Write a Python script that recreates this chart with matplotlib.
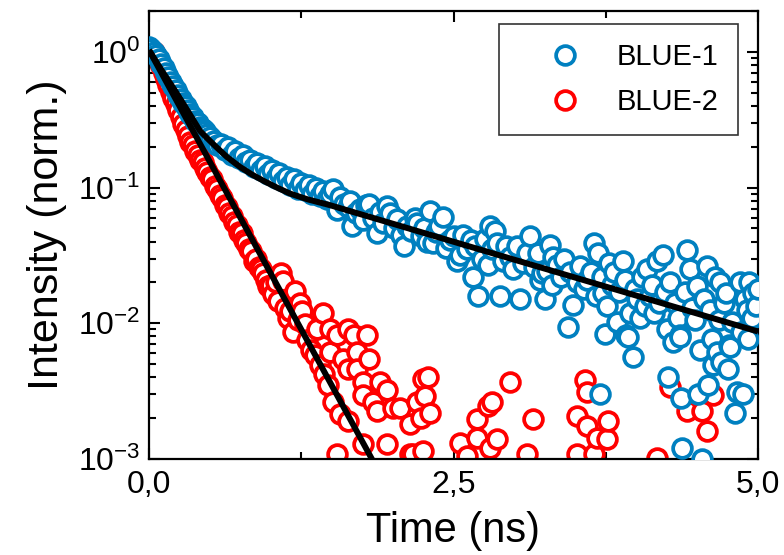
import matplotlib
matplotlib.use("Agg")
import matplotlib.pyplot as plt
from matplotlib.ticker import FuncFormatter, LogLocator, NullFormatter

# ---------------- data ----------------
blue1_time = [
    0.00, 0.02, 0.04, 0.06, 0.08, 0.10, 0.12, 0.14, 0.16, 0.18, 0.20, 0.22, 0.24, 0.26,
    0.28, 0.30, 0.32, 0.34, 0.36, 0.38, 0.40, 0.42, 0.44, 0.46, 0.48, 0.50, 0.53, 0.56,
    0.59, 0.62, 0.65, 0.68, 0.71, 0.74, 0.77, 0.80, 0.83, 0.86, 0.89, 0.92, 0.95, 0.98,
    1.01, 1.04, 1.07, 1.10, 1.13, 1.16, 1.19, 1.22, 1.25, 1.28, 1.31, 1.34, 1.37, 1.40,
    1.43, 1.46, 1.49, 1.51, 1.54, 1.57, 1.60, 1.63, 1.65, 1.67, 1.70, 1.73, 1.76, 1.78,
    1.81, 1.84, 1.87, 1.90, 1.92, 1.95, 1.98, 2.01, 2.04, 2.07, 2.09, 2.12, 2.15, 2.18,
    2.20, 2.23, 2.26, 2.28, 2.31, 2.33, 2.36, 2.38, 2.41, 2.44, 2.47, 2.50, 2.53, 2.55,
    2.58, 2.61, 2.64, 2.66, 2.68, 2.70, 2.73, 2.76, 2.78, 2.80, 2.82, 2.84, 2.86, 2.88,
    2.91, 2.93, 2.96, 2.99, 3.02, 3.05, 3.07, 3.10, 3.13, 3.16, 3.19, 3.21, 3.23, 3.25,
    3.27, 3.29, 3.31, 3.32, 3.35, 3.38, 3.41, 3.44, 3.46, 3.48, 3.51, 3.54, 3.57, 3.60,
    3.63, 3.65, 3.67, 3.69, 3.70, 3.72, 3.73, 3.74, 3.76, 3.78, 3.80, 3.82, 3.84, 3.86,
    3.89, 3.91, 3.92, 3.93, 3.95, 3.97, 3.99, 4.01, 4.03, 4.05, 4.07, 4.09, 4.11, 4.13,
    4.15, 4.17, 4.19, 4.22, 4.24, 4.25, 4.26, 4.28, 4.30, 4.32, 4.34, 4.36, 4.36, 4.37,
    4.38, 4.40, 4.42, 4.44, 4.46, 4.48, 4.50, 4.51, 4.52, 4.54, 4.56, 4.58, 4.59, 4.61,
    4.62, 4.63, 4.65, 4.66, 4.68, 4.69, 4.70, 4.72, 4.74, 4.75, 4.76, 4.77, 4.79, 4.81,
    4.83, 4.85, 4.86, 4.88, 4.89, 4.91, 4.92, 4.93, 4.95, 4.96, 4.98, 5.00,
]
blue1_intensity = [
    1.08, 1.05, 1.00, 0.95, 0.88, 0.82, 0.76, 0.70, 0.65, 0.60, 0.56, 0.52, 0.48, 0.45,
    0.42, 0.40, 0.37, 0.35, 0.33, 0.31, 0.30, 0.28, 0.27, 0.26, 0.25, 0.235, 0.22, 0.205,
    0.21, 0.19, 0.20, 0.175, 0.185, 0.165, 0.175, 0.155, 0.16, 0.142, 0.152, 0.135, 0.145, 0.125,
    0.135, 0.118, 0.128, 0.112, 0.12, 0.104, 0.115, 0.098, 0.108, 0.096, 0.104, 0.090, 0.099, 0.086,
    0.095, 0.083, 0.090, 0.098, 0.068, 0.085, 0.076, 0.072, 0.080, 0.052, 0.065, 0.070, 0.058, 0.075,
    0.076, 0.060, 0.046, 0.066, 0.055, 0.073, 0.065, 0.050, 0.059, 0.045, 0.037, 0.052, 0.048, 0.060,
    0.055, 0.044, 0.050, 0.040, 0.067, 0.039, 0.047, 0.052, 0.061, 0.036, 0.041, 0.044, 0.029, 0.032,
    0.045, 0.035, 0.041, 0.022, 0.037, 0.016, 0.030, 0.042, 0.027, 0.052, 0.035, 0.048, 0.039, 0.016,
    0.029, 0.037, 0.031, 0.025, 0.037, 0.015, 0.028, 0.033, 0.044, 0.026, 0.033, 0.021, 0.0236, 0.015,
    0.0243, 0.038, 0.019, 0.031, 0.027, 0.022, 0.030, 0.0094, 0.024, 0.0137, 0.020, 0.0265, 0.018, 0.021,
    0.024, 0.039, 0.016, 0.033, 0.0030, 0.022, 0.0168, 0.0083, 0.0135, 0.028, 0.019, 0.024, 0.0102, 0.017,
    0.029, 0.021, 0.0082, 0.0079, 0.012, 0.0056, 0.018, 0.015, 0.011, 0.022, 0.0135, 0.0252, 0.016, 0.019,
    0.012, 0.029, 0.014, 0.032, 0.017, 0.009, 0.0040, 0.020, 0.0073, 0.014, 0.011, 0.0082, 0.0079, 0.0028,
    0.0012, 0.017, 0.0345, 0.0252, 0.013, 0.0105, 0.0189, 0.0030, 0.0064, 0.0010, 0.015, 0.0265, 0.0035, 0.0126,
    0.0076, 0.0049, 0.022, 0.0061, 0.0105, 0.020, 0.0052, 0.014, 0.0168, 0.0046, 0.0069, 0.0067, 0.0102, 0.0022,
    0.0031, 0.020, 0.0086, 0.0030, 0.015, 0.0126, 0.0076, 0.020, 0.011, 0.0168, 0.0135, 0.018,
]

blue2_time = [
    0.00, 0.02, 0.04, 0.06, 0.08, 0.10, 0.12, 0.14, 0.16, 0.18, 0.20, 0.22, 0.24, 0.26,
    0.28, 0.30, 0.32, 0.34, 0.36, 0.38, 0.40, 0.42, 0.44, 0.46, 0.48, 0.50, 0.52, 0.54,
    0.56, 0.58, 0.60, 0.62, 0.64, 0.66, 0.68, 0.70, 0.72, 0.74, 0.76, 0.78, 0.80, 0.82,
    0.84, 0.86, 0.88, 0.90, 0.92, 0.94, 0.96, 0.98, 1.00, 1.02, 1.04, 1.06, 1.08, 1.10,
    1.12, 1.14, 1.16, 1.18, 1.20, 1.22, 1.24, 1.26, 1.28, 1.30, 1.33, 1.36, 1.38, 1.40,
    1.43, 1.44, 1.47, 1.49, 1.49, 1.51, 1.54, 1.54, 1.57, 1.59, 1.63, 1.63, 1.63, 1.68,
    1.71, 1.71, 1.76, 1.76, 1.76, 1.79, 1.81, 1.84, 1.87, 1.90, 1.95, 1.95, 2.00, 2.06,
    2.14, 2.14, 2.17, 2.20, 2.23, 2.25, 2.25, 2.27, 2.29, 2.31, 2.55, 2.61, 2.69, 2.69,
    2.78, 2.80, 2.82, 2.86, 2.96, 3.10, 3.15, 3.51, 3.51, 3.58, 3.60, 3.60, 3.65, 3.68,
    3.76, 3.77, 4.17, 4.28, 4.42, 4.54, 4.58, 4.63,
]
blue2_intensity = [
    1.05, 1.03, 0.99, 0.93, 0.86, 0.78, 0.70, 0.63, 0.57, 0.51, 0.46, 0.41, 0.37, 0.33,
    0.295, 0.265, 0.24, 0.215, 0.205, 0.185, 0.175, 0.16, 0.155, 0.14, 0.13, 0.12, 0.115, 0.102,
    0.098, 0.088, 0.084, 0.075, 0.072, 0.065, 0.062, 0.056, 0.053, 0.047, 0.046, 0.041, 0.039, 0.035,
    0.034, 0.029, 0.030, 0.026, 0.025, 0.0236, 0.021, 0.0189, 0.019, 0.0165, 0.020, 0.0145, 0.0236, 0.0205,
    0.013, 0.011, 0.0124, 0.0086, 0.0174, 0.0105, 0.0142, 0.0124, 0.0098, 0.0075, 0.0064, 0.0058, 0.0090, 0.0049,
    0.0120, 0.0042, 0.0035, 0.0090, 0.0061, 0.00265, 0.0082, 0.00109, 0.00213, 0.0055, 0.0090, 0.0046, 0.00189, 0.0082,
    0.0061, 0.0046, 0.0037, 0.00298, 0.00129, 0.0082, 0.0055, 0.00265, 0.00224, 0.0037, 0.0032, 0.00129, 0.00236, 0.00236,
    0.0018, 0.00109, 0.00109, 0.00265, 0.00199, 0.0039, 0.00114, 0.00289, 0.00403, 0.00217, 0.00131, 0.00105, 0.00196, 0.00142,
    0.00245, 0.0012, 0.00265, 0.0014, 0.00371, 0.00109, 0.00196, 0.00206, 0.00109, 0.00383, 0.00314, 0.00174, 0.00109, 0.00142,
    0.0014, 0.00189, 0.00102, 0.00341, 0.00224, 0.00224, 0.0016, 0.00298,
]

fit1_time = [0.0, 0.10, 0.213, 0.30, 0.419, 0.48, 0.542, 0.64, 0.747, 0.85, 0.952, 1.05,
             1.158, 1.30, 1.49, 2.0, 2.5, 3.0, 3.5, 4.0, 4.5, 5.0]
fit1_intensity = [1.03, 0.74, 0.519, 0.39, 0.261, 0.23, 0.203, 0.168, 0.142, 0.124, 0.1107, 0.100,
                  0.0903, 0.082, 0.074, 0.0542, 0.0399, 0.0294, 0.0217, 0.0160, 0.0118, 0.0087]
fit2_time = [0.0, 1.9]
fit2_intensity = [1.03, 0.000766]

series_labels = ["BLUE-1", "BLUE-2"]
x_major_ticks = [0.0, 2.5, 5.0]
x_minor_ticks = [1.25, 3.75]

# ---------------- style ----------------
FONT = ["Liberation Sans", "DejaVu Sans"]
plt.rcParams["font.family"] = FONT
plt.rcParams["mathtext.fontset"] = "custom"
plt.rcParams["mathtext.rm"] = FONT[0]
plt.rcParams["mathtext.it"] = FONT[0]
plt.rcParams["axes.unicode_minus"] = False

BLUE = "#0080c0"
RED = "#ff0000"

fig = plt.figure(figsize=(7.84, 5.55), dpi=100)
ax = fig.add_axes([149 / 784, 1 - 459 / 555, 609 / 784, 448 / 555])

mk = dict(marker="o", ls="none", ms=13.5, mew=2.7, mfc="white")
h2, = ax.plot(blue2_time, blue2_intensity, mec=RED, label=series_labels[1], zorder=2, **mk)
h1, = ax.plot(blue1_time, blue1_intensity, mec=BLUE, label=series_labels[0], zorder=3, **mk)
ax.plot(fit1_time, fit1_intensity, color="black", lw=4.3, zorder=4, solid_capstyle="butt")
ax.plot(fit2_time, fit2_intensity, color="black", lw=4.3, zorder=4, solid_capstyle="butt")

ax.set_yscale("log")
ax.set_xlim(0, 5)
ax.set_ylim(1e-3, 2)

ax.set_xticks(x_major_ticks)
ax.set_xticks(x_minor_ticks, minor=True)
ax.xaxis.set_major_formatter(FuncFormatter(lambda v, p: f"{v:.1f}".replace(".", ",")))
ax.yaxis.set_major_locator(LogLocator(base=10, numticks=10))
ax.yaxis.set_minor_locator(LogLocator(base=10, subs=range(2, 10), numticks=20))
ax.yaxis.set_minor_formatter(NullFormatter())

ax.tick_params(which="both", direction="in", top=True, right=True, width=1.5, labelsize=23)
ax.tick_params(which="major", length=8)
ax.tick_params(which="minor", length=5)
ax.tick_params(axis="x", pad=8)
ax.tick_params(axis="y", pad=6)
for s in ax.spines.values():
    s.set_linewidth(1.6)

ax.set_xlabel("Time (ns)", fontsize=30, labelpad=8)
ax.set_ylabel("Intensity (norm.)", fontsize=31, labelpad=8)

leg = ax.legend(handles=[h1, h2], loc="upper right", bbox_to_anchor=(0.967, 0.971),
                fontsize=21, frameon=True, fancybox=False, edgecolor="black",
                borderpad=0.65, handlelength=3.2, handletextpad=0.2, labelspacing=0.6,
                borderaxespad=0.0)
leg.get_frame().set_linewidth(1.2)

fig.savefig("out.png", dpi=100)
